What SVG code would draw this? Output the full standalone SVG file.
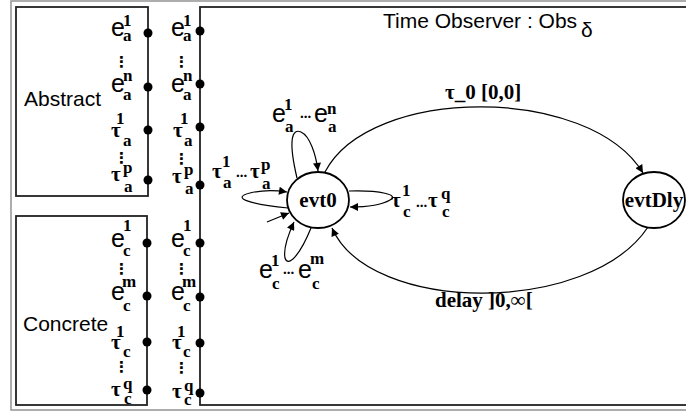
<svg xmlns="http://www.w3.org/2000/svg" width="686" height="415" viewBox="0 0 686 415">
<defs>
<marker id="ah" viewBox="0 0 10 10" refX="10" refY="5" markerWidth="10" markerHeight="8" markerUnits="userSpaceOnUse" orient="auto">
<path d="M0,0 L10,5 L0,10 z" fill="#000"/>
</marker>
<style>
.frame{fill:none;stroke:#999;stroke-width:1.6}
.box{fill:#fff;stroke:#222;stroke-width:1.8}
.dot{fill:#000}
.e{font-family:"Liberation Sans",Arial,sans-serif;font-size:25px;fill:#000}
.t{font-family:"Liberation Serif","Times New Roman",serif;font-weight:bold;font-size:21px;fill:#000}
.s{font-family:"Liberation Serif","Times New Roman",serif;font-weight:bold;font-size:17px;fill:#000}
.d{font-family:"Liberation Serif","Times New Roman",serif;font-weight:bold;font-size:15px;fill:#000}
.v{font-family:"DejaVu Sans",sans-serif;font-weight:bold;font-size:15px;fill:#000}
.lab{font-family:"Liberation Sans",Arial,sans-serif;font-size:21px;fill:#000}
.node{fill:#fff;stroke:#000;stroke-width:1.8}
.nl{font-family:"Liberation Serif","Times New Roman",serif;font-weight:bold;font-size:21px;fill:#000;text-anchor:middle}
.c{fill:none;stroke:#000;stroke-width:1.2}
</style>
</defs>
<rect class="frame" x="11" y="1" width="690" height="409"/>

<g id="abstract">
<rect class="box" x="16" y="7" width="132" height="189"/>
<text class="lab" x="24" y="106">Abstract</text>
<circle class="dot" cx="148" cy="33" r="4.5"/>
<circle class="dot" cx="148" cy="87" r="4.5"/>
<circle class="dot" cx="148" cy="130" r="4.5"/>
<circle class="dot" cx="148" cy="180" r="4.5"/>
<text class="e" x="111" y="36">e</text><text class="s" x="123" y="26">1</text><text class="s" x="123" y="41">a</text>
<text class="v" x="114" y="67">⋮</text>
<text class="e" x="111" y="92">e</text><text class="s" x="123" y="81">n</text><text class="s" x="123" y="100">a</text>
<text class="t" x="111" y="137">τ</text><text class="s" x="116" y="124">1</text><text class="s" x="123" y="146">a</text>
<text class="v" x="114" y="163">⋮</text>
<text class="t" x="111" y="181">τ</text><text class="s" x="123" y="173">p</text><text class="s" x="124" y="192">a</text>
</g>

<g id="concrete">
<rect class="box" x="16" y="216" width="131" height="189"/>
<text class="lab" x="23" y="331">Concrete</text>
<circle class="dot" cx="147" cy="243" r="4.5"/>
<circle class="dot" cx="147" cy="296" r="4.5"/>
<circle class="dot" cx="147" cy="342" r="4.5"/>
<circle class="dot" cx="147" cy="390" r="4.5"/>
<text class="e" x="111" y="247">e</text><text class="s" x="123" y="231">1</text><text class="s" x="123" y="256">c</text>
<text class="v" x="114" y="274">⋮</text>
<text class="e" x="111" y="300">e</text><text class="s" x="122" y="287">m</text><text class="s" x="123" y="311">c</text>
<text class="t" x="111" y="349">τ</text><text class="s" x="116" y="337">1</text><text class="s" x="123" y="357">c</text>
<text class="v" x="114" y="372">⋮</text>
<text class="t" x="111" y="396">τ</text><text class="s" x="123" y="389">q</text><text class="s" x="124" y="404">c</text>
</g>

<g id="observer">
<rect class="box" x="200" y="7" width="500" height="398"/>
<text class="lab" x="383" y="28">Time Observer : Obs</text>
<text class="lab" x="581" y="37" font-size="20">δ</text>
<circle class="dot" cx="200" cy="31" r="4.5"/>
<circle class="dot" cx="200" cy="84" r="4.5"/>
<circle class="dot" cx="200" cy="127" r="4.5"/>
<circle class="dot" cx="200" cy="185" r="4.5"/>
<circle class="dot" cx="200" cy="243" r="4.5"/>
<circle class="dot" cx="200" cy="297" r="4.5"/>
<circle class="dot" cx="200" cy="343" r="4.5"/>
<circle class="dot" cx="200" cy="393" r="4.5"/>
<text class="e" x="171" y="36">e</text><text class="s" x="183" y="26">1</text><text class="s" x="183" y="41">a</text>
<text class="v" x="174" y="67">⋮</text>
<text class="e" x="171" y="92">e</text><text class="s" x="183" y="81">n</text><text class="s" x="183" y="100">a</text>
<text class="t" x="173" y="137">τ</text><text class="s" x="180" y="124">1</text><text class="s" x="184" y="146">a</text>
<text class="v" x="174" y="164">⋮</text>
<text class="t" x="172" y="183">τ</text><text class="s" x="184" y="175">p</text><text class="s" x="185" y="194">a</text>
<text class="e" x="171" y="247">e</text><text class="s" x="183" y="231">1</text><text class="s" x="183" y="256">c</text>
<text class="v" x="174" y="274">⋮</text>
<text class="e" x="171" y="300">e</text><text class="s" x="182" y="287">m</text><text class="s" x="183" y="311">c</text>
<text class="t" x="172" y="349">τ</text><text class="s" x="177" y="337">1</text><text class="s" x="183" y="357">c</text>
<text class="v" x="174" y="373">⋮</text>
<text class="t" x="172" y="398">τ</text><text class="s" x="184" y="391">q</text><text class="s" x="184" y="405">c</text>
</g>

<g id="evt0">
<ellipse class="node" cx="318" cy="200" rx="31" ry="28"/>
<text class="nl" x="318" y="207">evt0</text>
</g>
<g id="evtDly">
<ellipse class="node" cx="654" cy="200" rx="31" ry="28"/>
<text class="nl" x="654" y="207">evtDly</text>
</g>

<g id="connectors">
<path class="c" d="M325,172 C370,85 590,85 643,173" marker-end="url(#ah)"/>
<path class="c" d="M648,227 C590,315 370,315 332,228" marker-end="url(#ah)"/>
<path class="c" d="M297,178 C288,140 292,128 301,132 C310,136 316,155 318,171" marker-end="url(#ah)"/>
<path class="c" d="M288,208 C250,204 230,198 250,193 C262,190 275,190 287,192" marker-end="url(#ah)"/>
<path class="c" d="M349,191 C380,190 400,195 390,200 C380,206 365,207 350,207" marker-end="url(#ah)"/>
<path class="c" d="M311,228 C300,255 288,268 285,258 C283,248 288,235 294,222" marker-end="url(#ah)"/>
<path class="c" d="M267,222 L289,213" marker-end="url(#ah)"/>
</g>

<g id="labels">
<text class="t" x="445" y="99">τ_0 [0,0]</text>
<text class="t" x="435" y="307">delay ]0,∞[</text>
<text class="e" x="272" y="122">e</text><text class="s" x="284" y="110">1</text><text class="s" x="285" y="132">a</text>
<text class="d" x="300" y="118">...</text>
<text class="e" x="314" y="122">e</text><text class="s" x="327" y="114">n</text><text class="s" x="328" y="132">a</text>
<text class="t" x="212" y="178">τ</text><text class="s" x="222" y="167">1</text><text class="s" x="223" y="188">a</text>
<text class="d" x="236" y="177">...</text>
<text class="t" x="250" y="178">τ</text><text class="s" x="261" y="170">p</text><text class="s" x="262" y="189">a</text>
<text class="t" x="391" y="207">τ</text><text class="s" x="402" y="196">1</text><text class="s" x="403" y="217">c</text>
<text class="d" x="416" y="207">...</text>
<text class="t" x="428" y="207">τ</text><text class="s" x="441" y="199">q</text><text class="s" x="442" y="217">c</text>
<text class="e" x="259" y="278">e</text><text class="s" x="271" y="266">1</text><text class="s" x="272" y="289">c</text>
<text class="d" x="283" y="274">...</text>
<text class="e" x="298" y="278">e</text><text class="s" x="310" y="264">m</text><text class="s" x="312" y="289">c</text>
</g>
</svg>
